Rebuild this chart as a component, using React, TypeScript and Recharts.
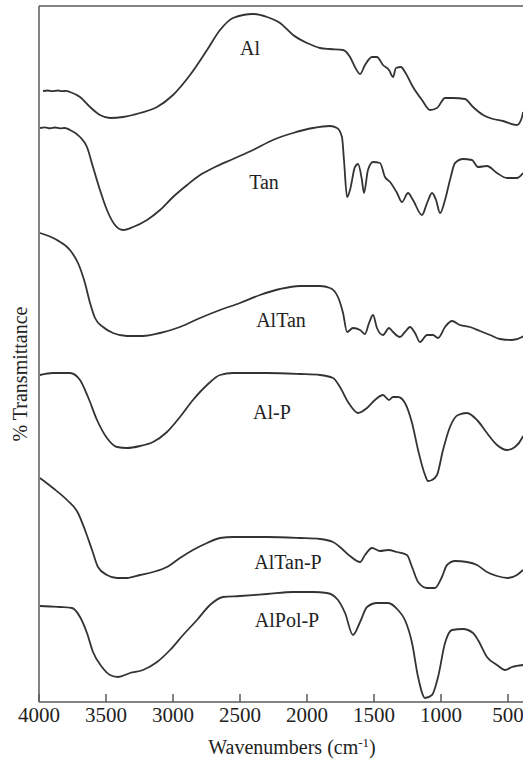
import React from "react";
import {
  LineChart,
  Line,
  XAxis,
  YAxis,
  ReferenceLine,
  ReferenceDot,
} from "recharts";

// wavenumber (cm-1) / relative transmittance (arbitrary, stacked)
const alWn = [3970, 3933, 3903, 3858, 3828, 3798, 3769, 3694, 3619, 3545, 3470, 3373, 3246, 3119, 3000, 2873, 2746, 2649, 2552, 2403, 2298, 2201, 2104, 2000, 1903, 1828, 1731, 1679, 1642, 1604, 1567, 1515, 1478, 1433, 1388, 1358, 1336, 1298, 1269, 1209, 1142, 1082, 1030, 970, 910, 821, 761, 686, 612, 537, 433, 395, 388];
const alT = [611, 611.5, 610.8, 611.5, 610.8, 611.2, 610, 605, 595, 587, 584, 585, 589, 595, 607, 627, 652, 672, 684, 688, 685, 679, 667, 659, 654, 653, 652, 645, 635, 628, 637, 645, 645, 637, 632, 625, 634, 635, 630, 615, 602, 592, 594, 604, 604, 603, 595, 587, 583, 581, 577, 585, 590];

const tanWn = [3993, 3955, 3918, 3881, 3843, 3806, 3769, 3694, 3642, 3597, 3545, 3493, 3433, 3373, 3298, 3194, 3097, 3000, 2895, 2798, 2701, 2552, 2403, 2254, 2104, 1955, 1828, 1776, 1739, 1724, 1701, 1679, 1642, 1619, 1590, 1575, 1545, 1507, 1455, 1418, 1380, 1328, 1291, 1246, 1209, 1142, 1104, 1067, 1037, 1007, 970, 933, 895, 836, 769, 724, 657, 582, 507, 433, 388];
const tanT = [574, 574.6, 573.6, 574.5, 573.6, 574, 572, 565, 555, 535, 512, 492, 477, 472, 475, 482, 492, 505, 517, 527, 534, 543, 552, 562, 569, 574, 576, 574, 565, 542, 505, 512, 535, 538, 522, 509, 532, 540, 539, 525, 520, 509, 500, 509, 502, 487, 499, 509, 502, 489, 502, 522, 539, 543, 542, 535, 536, 529, 524, 524, 529];

const alTanWn = [3993, 3866, 3769, 3709, 3657, 3619, 3582, 3522, 3448, 3343, 3224, 3097, 2948, 2798, 2649, 2500, 2351, 2201, 2052, 1903, 1828, 1769, 1731, 1701, 1657, 1604, 1567, 1537, 1507, 1478, 1433, 1388, 1358, 1306, 1269, 1231, 1194, 1157, 1104, 1060, 1022, 970, 918, 858, 783, 709, 634, 560, 470, 395, 388];
const alTanT = [469, 462, 452, 439, 419, 399, 384, 375, 369, 366, 366, 369, 375, 384, 392, 399, 407, 413, 416, 416, 414, 405, 389, 370, 374, 372, 368, 379, 387, 374, 367, 374, 370, 365, 370, 375, 369, 360, 367, 367, 364, 375, 381, 377, 375, 371, 367, 363, 362, 365, 366];

const alPWn = [3993, 3896, 3769, 3694, 3634, 3567, 3493, 3418, 3343, 3246, 3149, 3045, 2948, 2851, 2746, 2649, 2552, 2298, 2052, 1903, 1806, 1754, 1694, 1619, 1552, 1493, 1433, 1388, 1358, 1321, 1269, 1216, 1171, 1119, 1097, 1067, 1030, 985, 933, 873, 806, 731, 657, 582, 507, 448, 395, 388];
const alPT = [327, 329, 329, 322, 305, 282, 264, 255, 254, 256, 260, 270, 285, 302, 317, 327, 329, 329, 328, 327, 324, 315, 300, 289, 294, 302, 307, 302, 305, 305, 299, 279, 252, 227, 221, 222, 227, 252, 275, 287, 289, 282, 269, 257, 252, 255, 264, 266];

const alTanPWn = [3993, 3896, 3791, 3709, 3657, 3604, 3560, 3493, 3418, 3343, 3246, 3149, 3045, 2948, 2851, 2746, 2649, 2552, 2298, 2052, 1903, 1806, 1754, 1679, 1604, 1567, 1515, 1455, 1395, 1328, 1254, 1216, 1171, 1104, 1045, 993, 955, 895, 806, 731, 657, 582, 500, 433, 388];
const alTanPT = [224, 214, 202, 189, 172, 152, 135, 127, 124, 124, 127, 130, 135, 144, 152, 159, 164, 165, 165, 164, 163, 160, 155, 146, 140, 147, 154, 151, 152, 150, 147, 135, 120, 114, 114, 125, 137, 141, 140, 137, 130, 126, 124, 127, 132];

const alPolPWn = [3993, 3918, 3843, 3754, 3694, 3642, 3597, 3530, 3470, 3410, 3321, 3224, 3119, 3022, 2925, 2821, 2724, 2627, 2500, 2298, 2104, 1955, 1851, 1769, 1716, 1657, 1604, 1552, 1478, 1395, 1321, 1269, 1216, 1171, 1119, 1067, 1022, 970, 918, 836, 761, 724, 657, 582, 522, 470, 388];
const alPolPT = [96, 95.5, 95, 94, 85, 69, 50, 35, 27, 25, 29, 32, 40, 52, 67, 82, 97, 105, 106, 108, 110, 110, 109, 102, 89, 67, 80, 95, 99, 99, 92, 82, 59, 25, 4, 7, 25, 59, 72, 73, 69, 62, 45, 37, 32, 35, 37];

const xTicks = [4000, 3500, 3000, 2500, 2000, 1500, 1000, 500];

const zip = (wn: number[], t: number[]) => wn.map((w, i) => ({ wn: w, t: t[i] }));

const spectra = [
  { name: "Al", data: zip(alWn, alT) },
  { name: "Tan", data: zip(tanWn, tanT) },
  { name: "AlTan", data: zip(alTanWn, alTanT) },
  { name: "Al-P", data: zip(alPWn, alPT) },
  { name: "AlTan-P", data: zip(alTanPWn, alTanPT) },
  { name: "AlPol-P", data: zip(alPolPWn, alPolPT) },
];

// where each sample name sits (data coords)
const curveLabels = [
  { text: "Al", wn: 2425, t: 654 },
  { text: "Tan", wn: 2321, t: 520 },
  { text: "AlTan", wn: 2194, t: 382 },
  { text: "Al-P", wn: 2261, t: 290 },
  { text: "AlTan-P", wn: 2142, t: 140 },
  { text: "AlPol-P", wn: 2149, t: 82 },
];

const FONT = '"Liberation Serif", "Times New Roman", serif';
const INK = "#222";
const AXIS = "#5a5a5a";
const LINE = "#333";

export default function App() {
  return (
    <div style={{ position: "absolute", left: 0, top: 0, background: "#fff" }}>
      <LineChart
        width={523}
        height={763}
        margin={{ top: 6, right: 0, bottom: 0, left: 0 }}
      >
        <XAxis
          type="number"
          dataKey="wn"
          domain={[388, 4000]}
          reversed
          allowDataOverflow
          ticks={xTicks}
          interval={0}
          height={61}
          tickSize={-8}
          tickMargin={13}
          stroke={AXIS}
          strokeWidth={1.5}
          tick={{ fontSize: 21, fill: INK, fontFamily: FONT }}
          label={{
            position: "center",
            content: (props: any) => {
              const vb = props.viewBox;
              const cx = vb.x + vb.width / 2 + 11;
              return (
                <text
                  x={cx}
                  y={754}
                  textAnchor="middle"
                  fontSize={20}
                  fill={INK}
                  fontFamily={FONT}
                >
                  Wavenumbers (cm
                  <tspan dy={-7} fontSize={13}>-1</tspan>
                  <tspan dy={7}>)</tspan>
                </text>
              );
            },
          }}
        />
        <YAxis
          type="number"
          domain={[0, 696]}
          width={39}
          tick={false}
          tickLine={false}
          stroke={AXIS}
          strokeWidth={1.5}
          label={{
            position: "center",
            content: (props: any) => {
              const vb = props.viewBox;
              const cx = 20;
              const cy = vb.y + vb.height / 2 + 20;
              return (
                <text
                  x={cx}
                  y={cy}
                  transform={`rotate(-90 ${cx} ${cy})`}
                  textAnchor="middle"
                  dominantBaseline="central"
                  fontSize={20}
                  fill={INK}
                  fontFamily={FONT}
                >
                  % Transmittance
                </text>
              );
            },
          }}
        />
        <ReferenceLine y={696} stroke={AXIS} strokeWidth={1.5} />
        {spectra.map((s) => (
          <Line
            key={s.name}
            data={s.data}
            dataKey="t"
            type="monotone"
            stroke={LINE}
            strokeWidth={1.8}
            dot={false}
            activeDot={false}
            isAnimationActive={false}
          />
        ))}
        {curveLabels.map((l) => (
          <ReferenceDot
            key={l.text}
            x={l.wn}
            y={l.t}
            r={0}
            fill="none"
            stroke="none"
            label={{
              value: l.text,
              position: "center",
              fontSize: 20,
              fill: INK,
              fontFamily: FONT,
            }}
          />
        ))}
      </LineChart>
    </div>
  );
}
